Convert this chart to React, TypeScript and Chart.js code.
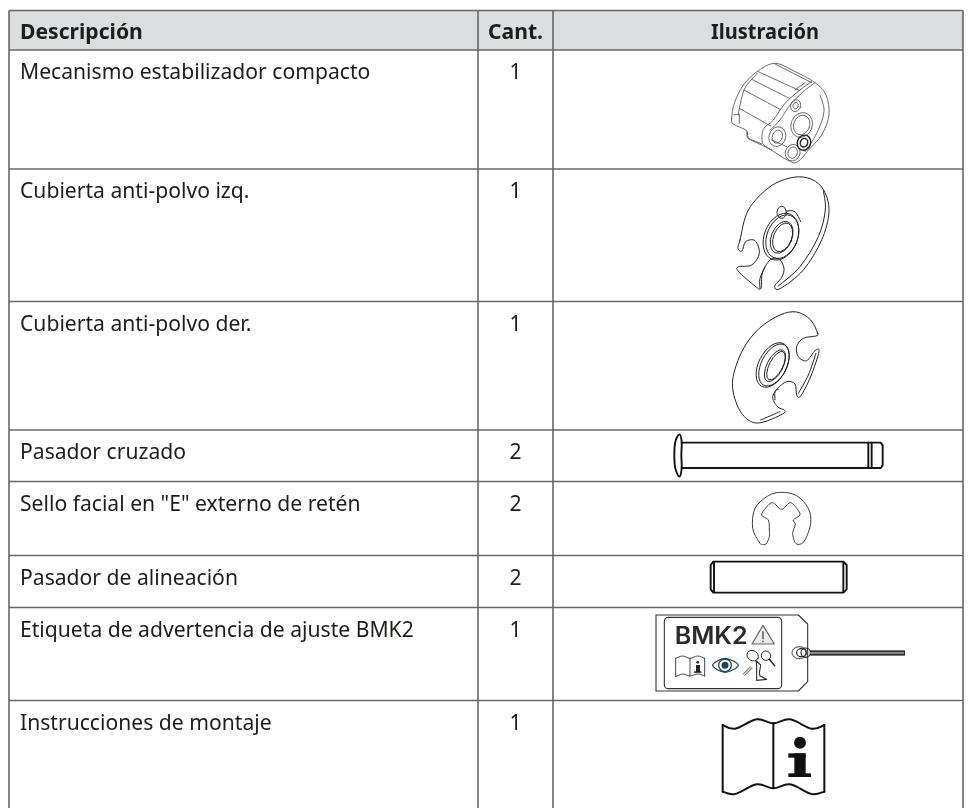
import React, { useEffect, useRef } from "react";
import { Chart, registerables } from "chart.js";

Chart.register(...registerables);

// ---- table content ----
const headers = ["Descripción", "Cant.", "Ilustración"];
const descriptions = [
  "Mecanismo estabilizador compacto",
  "Cubierta anti-polvo izq.",
  "Cubierta anti-polvo der.",
  "Pasador cruzado",
  'Sello facial en "E" externo de retén',
  "Pasador de alineación",
  "Etiqueta de advertencia de ajuste BMK2",
  "Instrucciones de montaje",
];
const quantities = [1, 1, 1, 2, 2, 2, 1, 1];

// ---- layout (page units, 1 unit = 1 px) ----
const W = 972;
const H = 808;
const COL_EDGES = [9, 478, 553, 963];
const ROW_EDGES = [10.5, 50, 169, 301.5, 430, 481.5, 555.5, 607.5, 700.5, 808];
const FONT = '"Noto Sans"';
const SIZE = 22;
const SQUEEZE = 0.96;
const INK = "#1d1d1b";
const RULE = "#666769";
const HEAD = "#dcddde";

type P = [number, number];

function makePlugin() {
  return {
    id: "tableCells",
    afterDatasetsDraw(chart: any) {
      const ctx: CanvasRenderingContext2D = chart.ctx;
      const sx = (v: number) => chart.scales.x.getPixelForValue(v);
      const sy = (v: number) => chart.scales.y.getPixelForValue(v);
      const top = ROW_EDGES[0];
      const bottom = ROW_EDGES[ROW_EDGES.length - 1];
      const left = COL_EDGES[0];
      const right = COL_EDGES[3];

      ctx.save();
      ctx.fillStyle = HEAD;
      ctx.fillRect(sx(left), sy(top), sx(right) - sx(left), sy(ROW_EDGES[1]) - sy(top));
      ctx.strokeStyle = RULE;
      ctx.lineWidth = 1.6;
      ROW_EDGES.slice(0, -1).forEach((r) => {
        ctx.beginPath();
        ctx.moveTo(sx(left), sy(r));
        ctx.lineTo(sx(right), sy(r));
        ctx.stroke();
      });
      COL_EDGES.forEach((c) => {
        ctx.beginPath();
        ctx.moveTo(sx(c), sy(top));
        ctx.lineTo(sx(c), sy(bottom));
        ctx.stroke();
      });

      const text = (s: string, x: number, y: number, bold: boolean, align: "left" | "center", squeeze = SQUEEZE) => {
        ctx.save();
        ctx.translate(x, y);
        ctx.scale(squeeze, 1);
        ctx.font = `${bold ? "700 " : ""}${SIZE}px ${FONT}`;
        ctx.fillStyle = INK;
        ctx.textAlign = align;
        ctx.textBaseline = "alphabetic";
        ctx.fillText(s, 0, 0);
        ctx.restore();
      };

      text(headers[0], sx(20), sy(39), true, "left");
      text(headers[1], sx(515.5), sy(39), true, "center");
      text(headers[2], sx(765), sy(39), true, "center", 0.91);

      chart.getDatasetMeta(0).data.forEach((pt: any, i: number) => {
        text(descriptions[i], pt.x, pt.y, false, "left");
      });
      chart.getDatasetMeta(1).data.forEach((pt: any, i: number) => {
        text(String(quantities[i]), pt.x, pt.y, false, "center");
      });

      // ---- illustration helpers ----
      const view = (ox: number, oy: number) => (p: P): P => [sx(ox + p[0] / 3), sy(oy + p[1] / 3)];
      const curve = (pts: P[], closed: boolean) => {
        const n = pts.length;
        const at = (i: number): P => (closed ? pts[(i + n) % n] : pts[Math.max(0, Math.min(n - 1, i))]);
        ctx.beginPath();
        ctx.moveTo(pts[0][0], pts[0][1]);
        const segs = closed ? n : n - 1;
        for (let i = 0; i < segs; i++) {
          const p0 = at(i - 1);
          const p1 = at(i);
          const p2 = at(i + 1);
          const p3 = at(i + 2);
          ctx.bezierCurveTo(
            p1[0] + (p2[0] - p0[0]) / 6,
            p1[1] + (p2[1] - p0[1]) / 6,
            p2[0] - (p3[0] - p1[0]) / 6,
            p2[1] - (p3[1] - p1[1]) / 6,
            p2[0],
            p2[1],
          );
        }
        if (closed) ctx.closePath();
        ctx.stroke();
      };
      const poly = (pts: P[], closed = false) => {
        ctx.beginPath();
        pts.forEach((p, i) => (i ? ctx.lineTo(p[0], p[1]) : ctx.moveTo(p[0], p[1])));
        if (closed) ctx.closePath();
        ctx.stroke();
      };
      const ell = (c: P, rx: number, ry: number, rot = 0) => {
        ctx.beginPath();
        ctx.ellipse(c[0], c[1], rx / 3, ry / 3, (rot * Math.PI) / 180, 0, Math.PI * 2);
        ctx.stroke();
      };
      ctx.lineJoin = "round";
      ctx.lineCap = "round";

      // 1. compact stabiliser mechanism
      let v = view(680, 40);
      ctx.strokeStyle = "#47484b";
      ctx.lineWidth = 0.8;
      curve(
        ([[155, 235], [163, 190], [190, 135], [235, 92], [285, 70], [340, 92], [405, 128], [438, 165], [447, 225], [425, 285], [390, 325], [352, 366], [322, 360], [265, 325], [205, 295], [200, 272], [160, 252]] as P[]).map(v),
        true,
      );
      ([
        [[235, 95], [355, 150]],
        [[215, 118], [328, 175]],
        [[192, 150], [300, 208]],
        [[178, 205], [272, 258]],
        [[285, 72], [395, 128]],
        [[232, 100], [215, 118], [192, 150], [178, 205], [175, 225]],
      ] as P[][]).forEach((l) => curve(l.map(v), false));
      curve(([[395, 125], [360, 150], [315, 190], [280, 240], [250, 268], [248, 310], [275, 330]] as P[]).map(v), false);
      curve(([[405, 128], [370, 155], [330, 195], [300, 240], [270, 270]] as P[]).map(v), false);
      curve(([[420, 165], [432, 215], [410, 280], [375, 335]] as P[]).map(v), false);
      poly(([[160, 225], [178, 222], [178, 250]] as P[]).map(v));
      poly(([[200, 275], [205, 295], [245, 312]] as P[]).map(v));
      poly(([[345, 150], [375, 128]] as P[]).map(v));
      ell(v([292, 290]), 25, 30, 20);
      ell(v([292, 290]), 15, 20, 20);
      ell(v([338, 338]), 22, 25, 20);
      ell(v([338, 338]), 14, 17, 20);
      poly(([[320, 320], [275, 300]] as P[]).map(v));
      ell(v([365, 255]), 32, 38, 20);
      ell(v([365, 255]), 24, 30, 20);
      ell(v([347, 197]), 15, 18, 20);
      ell(v([347, 197]), 8, 10, 20);
      ctx.strokeStyle = "#1f1f1f";
      ctx.lineWidth = 1.4;
      ell(v([372, 308]), 20, 23, 20);
      ell(v([372, 308]), 11, 13, 20);

      // 2. left dust cover
      ctx.strokeStyle = "#222";
      ctx.lineWidth = 1;
      curve(
        ([[180, 600], [205, 510], [270, 440], [340, 412], [395, 418], [432, 452], [447, 515], [425, 600], [370, 690], [300, 746], [284, 738], [305, 712], [312, 685], [298, 658], [270, 660], [247, 700], [243, 745], [225, 738], [176, 695], [176, 680], [215, 675], [238, 640], [225, 602], [197, 605], [186, 633], [174, 625]] as P[]).map(v),
        true,
      );
      curve(([[430, 452], [436, 510], [415, 590], [360, 680], [295, 738]] as P[]).map(v), false);
      ell(v([303, 590]), 50, 73, 22);
      ell(v([307, 590]), 46, 68, 22);
      ell(v([305, 592]), 31, 50, 22);
      ell(v([308, 592]), 27, 45, 22);
      ell(v([305, 517]), 14, 18, 0);
      curve(([[318, 513], [345, 515], [362, 545]] as P[]).map(v), false);
      curve(([[255, 680], [240, 715], [240, 745]] as P[]).map(v), false);

      // 3. right dust cover
      v = view(640, 300);
      curve(
        ([[533, 100], [512, 60], [470, 36], [420, 45], [358, 85], [308, 150], [278, 240], [290, 312], [322, 358], [362, 368], [428, 342], [433, 330], [415, 322], [398, 295], [410, 268], [440, 245], [465, 252], [470, 285], [482, 288], [512, 230], [537, 155], [525, 152], [500, 182], [475, 170], [470, 140], [490, 115], [528, 108]] as P[]).map(v),
        true,
      );
      curve(([[362, 360], [420, 335]] as P[]).map(v), false);
      curve(([[475, 280], [505, 225], [528, 160]] as P[]).map(v), false);
      curve(([[405, 300], [405, 275], [415, 268]] as P[]).map(v), false);
      ell(v([398, 195]), 42, 72, 27);
      ell(v([402, 195]), 38, 68, 27);
      ell(v([405, 197]), 24, 52, 27);
      ell(v([408, 197]), 20, 47, 27);

      // 4. cross pin
      ctx.strokeStyle = "#111";
      ctx.lineWidth = 1.9;
      curve(([[118, 403], [106, 425], [103, 465], [106, 505], [118, 530], [125, 505], [124, 465], [125, 425]] as P[]).map(v), true);
      poly(([[125, 428], [685, 428], [685, 504], [125, 504]] as P[]).map(v));
      poly(([[695, 428], [695, 504]] as P[]).map(v));
      poly(([[685, 428], [722, 428], [728, 436], [728, 496], [722, 504], [685, 504]] as P[]).map(v));

      // 5. external E clip
      v = view(640, 465);
      ctx.strokeStyle = "#3c3c3c";
      ctx.lineWidth = 1;
      curve(
        ([[358, 232], [338, 190], [345, 130], [385, 92], [425, 82], [470, 92], [505, 130], [512, 175], [495, 225], [478, 238], [465, 232], [458, 205], [466, 178], [460, 165], [480, 150], [470, 130], [450, 113], [425, 133], [398, 113], [378, 128], [365, 150], [385, 165], [388, 195], [388, 215], [378, 237], [365, 238]] as P[]).map(v),
        true,
      );

      // 6. alignment pin
      ctx.strokeStyle = "#111";
      ctx.lineWidth = 1.9;
      poly(([[220, 290], [610, 290], [620, 300], [620, 373], [610, 383], [220, 383], [212, 373], [212, 300]] as P[]).map(v), true);
      poly(([[222, 292], [222, 381]] as P[]).map(v));
      poly(([[610, 292], [610, 381]] as P[]).map(v));

      // 7. warning tag
      v = view(640, 590);
      ctx.strokeStyle = "#333";
      ctx.lineWidth = 1.1;
      poly(([[48, 75], [475, 75], [503, 102], [503, 275], [475, 303], [48, 303]] as P[]).map(v), true);
      const [rx0, ry0] = v([73, 82]);
      const [rx1, ry1] = v([425, 296]);
      ctx.beginPath();
      ctx.roundRect(rx0, ry0, rx1 - rx0, ry1 - ry0, 4);
      ctx.stroke();
      const [bx, by] = v([104, 161]);
      ctx.fillStyle = "#2b2b2b";
      ctx.font = "600 24px Inter";
      ctx.textAlign = "left";
      ctx.textBaseline = "alphabetic";
      ctx.save();
      ctx.translate(bx, by);
      ctx.scale(73 / ctx.measureText("BMK2").width, 1);
      ctx.fillText("BMK2", 0, 0);
      ctx.restore();
      // warning sign
      ctx.strokeStyle = "#666";
      ctx.fillStyle = "#ececec";
      ctx.lineWidth = 1.2;
      ctx.beginPath();
      ([[369, 106], [403, 162], [336, 162]] as P[]).map(v).forEach((p, i) => (i ? ctx.lineTo(p[0], p[1]) : ctx.moveTo(p[0], p[1])));
      ctx.closePath();
      ctx.fill();
      ctx.stroke();
      ctx.strokeStyle = "#333";
      poly(([[369, 125], [369, 146]] as P[]).map(v));
      poly(([[369, 153], [369, 155]] as P[]).map(v));
      // small book
      ctx.strokeStyle = "#333";
      ctx.lineWidth = 0.9;
      curve(([[107, 205], [128, 198], [150, 205], [172, 198], [194, 205]] as P[]).map(v), false);
      curve(([[107, 260], [128, 252], [150, 258], [172, 252], [194, 258]] as P[]).map(v), false);
      poly(([[107, 205], [107, 260]] as P[]).map(v));
      poly(([[194, 205], [194, 258]] as P[]).map(v));
      poly(([[150, 205], [150, 258]] as P[]).map(v));
      ctx.fillStyle = "#222";
      const sd = v([173, 217]);
      ctx.beginPath();
      ctx.arc(sd[0], sd[1], 1.4, 0, 7);
      ctx.fill();
      const si0 = v([162, 225]);
      ctx.fillRect(si0[0] + 2, si0[1], 4, 7);
      const si1 = v([162, 244]);
      ctx.fillRect(si1[0], si1[1], 7.5, 1.5);
      // eye
      ctx.strokeStyle = "#1f4756";
      ctx.lineWidth = 1.3;
      curve(([[218, 226], [255, 205], [295, 226], [255, 247]] as P[]).map(v), true);
      ell(v([255, 226]), 19, 19);
      ctx.fillStyle = "#1f4756";
      const eyeC = v([255, 226]);
      ctx.beginPath();
      ctx.arc(eyeC[0], eyeC[1], 3.5, 0, 7);
      ctx.fill();
      // knee figure, wrench, magnifier
      ctx.strokeStyle = "#2a2a2a";
      ctx.lineWidth = 1;
      ell(v([338, 197]), 18, 15, 30);
      ell(v([378, 197]), 14, 14);
      ctx.lineWidth = 1.5;
      poly(([[388, 208], [404, 227]] as P[]).map(v));
      ctx.lineWidth = 1.1;
      poly(([[348, 212], [362, 225], [358, 250], [360, 258], [380, 268], [350, 271], [350, 225], [348, 212]] as P[]).map(v));
      ctx.strokeStyle = "#888";
      poly(([[310, 252], [332, 230]] as P[]).map(v));
      poly(([[314, 256], [336, 234]] as P[]).map(v));
      // eyelet + cord
      ctx.strokeStyle = "#666";
      ctx.lineWidth = 1.1;
      ell(v([478, 188]), 22, 18);
      ctx.strokeStyle = "#222";
      ell(v([484, 188]), 14, 12);
      ell(v([497, 188]), 14, 14);
      const [cx0, cy0] = v([510, 181]);
      const [cx1, cy1] = v([795, 197]);
      ctx.fillStyle = "#333";
      ctx.fillRect(cx0, cy0, cx1 - cx0, cy1 - cy0);
      ctx.fillStyle = "#bdbdbd";
      ctx.fillRect(cx0, cy0 + 2, cx1 - cx0 - 1, 1.2);

      // 8. instructions book
      ctx.strokeStyle = "#111";
      ctx.lineWidth = 2;
      curve(([[248, 405], [285, 416], [350, 388], [400, 400], [450, 388], [515, 416], [553, 405]] as P[]).map(v), false);
      curve(([[248, 605], [285, 612], [350, 583], [400, 595], [450, 583], [515, 612], [553, 605]] as P[]).map(v), false);
      poly(([[248, 405], [248, 605]] as P[]).map(v));
      poly(([[553, 405], [553, 605]] as P[]).map(v));
      poly(([[400, 400], [400, 595]] as P[]).map(v));
      ctx.fillStyle = "#111";
      const dot = v([480, 458]);
      ctx.beginPath();
      ctx.arc(dot[0], dot[1], 6, 0, 7);
      ctx.fill();
      const rect = (a: P, b: P) => {
        const p = v(a);
        const q = v(b);
        ctx.fillRect(p[0], p[1], q[0] - p[0], q[1] - p[1]);
      };
      rect([445, 490], [497, 503]);
      rect([463, 490], [497, 552]);
      rect([445, 550], [513, 561]);
      ctx.restore();
    },
  };
}

export default function App() {
  const ref = useRef<HTMLCanvasElement>(null);
  useEffect(() => {
    document.body.style.margin = "0";
    document.body.style.background = "#fff";
    const chart = new Chart(ref.current!, {
      type: "scatter",
      data: {
        datasets: [
          {
            label: headers[0],
            data: descriptions.map((_, i) => ({ x: 20, y: ROW_EDGES[i + 1] + 29 })),
            pointRadius: 0,
          },
          {
            label: headers[1],
            data: quantities.map((_, i) => ({ x: 515.5, y: ROW_EDGES[i + 1] + 29 })),
            pointRadius: 0,
          },
        ],
      },
      options: {
        responsive: false,
        animation: false,
        layout: { padding: 0 },
        plugins: { legend: { display: false }, tooltip: { enabled: false }, title: { display: false } },
        scales: {
          x: { type: "linear", min: 0, max: W, display: false },
          y: { type: "linear", min: 0, max: H, reverse: true, display: false },
        },
      },
      plugins: [makePlugin()],
    } as any);
    return () => chart.destroy();
  }, []);
  return (
    <div style={{ width: W, height: H, background: "#fff" }}>
      <canvas ref={ref} width={W} height={H} style={{ display: "block" }} />
    </div>
  );
}
